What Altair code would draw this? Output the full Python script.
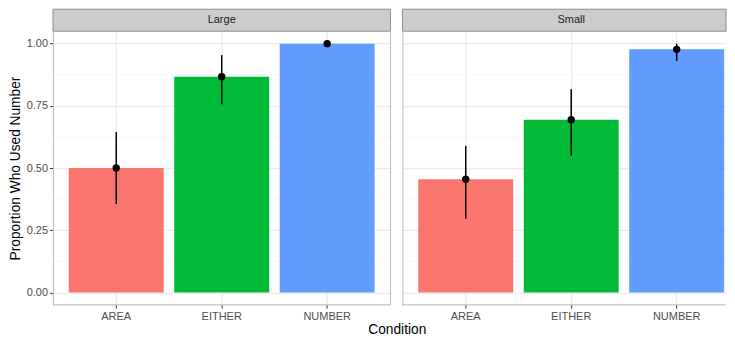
import altair as alt
import pandas as pd

panels = ["Large", "Small"]
conditions = ["AREA", "EITHER", "NUMBER"]
large_prop = [0.500, 0.867, 1.000]
large_lower = [0.355, 0.756, 1.000]
large_upper = [0.645, 0.954, 1.000]
small_prop = [0.455, 0.694, 0.977]
small_lower = [0.296, 0.550, 0.930]
small_upper = [0.589, 0.817, 1.000]
y_ticks = [0.0, 0.25, 0.5, 0.75, 1.0]
y_minor = [0.125, 0.375, 0.625, 0.875]
colors = ["#F8766D", "#00BA38", "#619CFF"]

FONT = "Liberation Sans"
W = 338
W2 = 324
H = 274
STRIP = 22
BORDER = "#B8B8B8"


def panel(name, prop, lower, upper, first, width, x_scale):
    df = pd.DataFrame({"Condition": conditions, "prop": prop,
                       "lower": lower, "upper": upper})
    xs = x_scale
    ys = alt.Scale(domain=[-0.05, 1.05], nice=False, zero=False)
    x_axis = alt.Axis(title=None, labelFontSize=11, labelColor="#4D4D4D",
                      labelAngle=0, tickColor="#333333", tickSize=3.4,
                      labelPadding=2, grid=True, gridColor="#EBEBEB",
                      gridWidth=1.3, domain=False, labelFont=FONT)
    if first:
        y_axis = alt.Axis(title="Proportion Who Used Number", values=y_ticks,
                          format=".2f", labelFontSize=11, labelColor="#4D4D4D",
                          tickColor="#333333", tickSize=3.4, labelPadding=2,
                          titleFontSize=13.75, titleFontWeight="normal",
                          titleColor="black", titleFont=FONT, labelFont=FONT,
                          titlePadding=4, grid=True, gridColor="#EBEBEB",
                          gridWidth=1.3, domainColor=BORDER, domainWidth=1)
    else:
        y_axis = alt.Axis(title=None, values=y_ticks, labels=False, ticks=False,
                          grid=True, gridColor="#EBEBEB", gridWidth=1.3,
                          domainColor=BORDER, domainWidth=1)

    base = alt.Chart(df)
    minor_df = pd.DataFrame({"m": y_minor})
    minor = alt.Chart(minor_df).mark_rule(color="#F4F4F4", strokeWidth=0.7).encode(
        y=alt.Y("m:Q", scale=ys, axis=y_axis)
    )
    bars = base.mark_bar().encode(
        x=alt.X("Condition:N", scale=xs, axis=x_axis, sort=conditions),
        y=alt.Y("prop:Q", scale=ys, axis=y_axis),
        color=alt.Color("Condition:N", scale=alt.Scale(domain=conditions, range=colors),
                        legend=None),
    )
    err = base.mark_rule(color="black", strokeWidth=1.5).encode(
        x=alt.X("Condition:N", scale=xs, sort=conditions),
        y=alt.Y("lower:Q", scale=ys),
        y2="upper:Q",
    )
    pts = base.mark_circle(color="black", size=55, opacity=1).encode(
        x=alt.X("Condition:N", scale=xs, sort=conditions),
        y=alt.Y("prop:Q", scale=ys),
    )
    strip_df = pd.DataFrame({"panel": [name]})
    strip = alt.Chart(strip_df).mark_rect(fill="#CCCCCC", stroke="#8C8C8C",
                                          strokeWidth=1).encode(
        x=alt.value(0), x2=alt.value(width), y=alt.value(-STRIP), y2=alt.value(0)
    )
    strip_text = alt.Chart(strip_df).mark_text(font=FONT, fontSize=11,
                                               color="#1A1A1A").encode(
        x=alt.value(W / 2), y=alt.value(-STRIP / 2), text="panel:N"
    )
    bottom = alt.Chart(strip_df).mark_rule(color=BORDER, strokeWidth=1).encode(
        x=alt.value(0), x2=alt.value(width), y=alt.value(H)
    )
    layers = [minor, bars, err, pts, strip, strip_text, bottom]
    if first:
        right = alt.Chart(strip_df).mark_rule(color=BORDER, strokeWidth=1).encode(
            x=alt.value(width), y=alt.value(0), y2=alt.value(H)
        )
        layers.append(right)
    return alt.layer(*layers).properties(width=width, height=H)


xs_left = alt.Scale(domain=conditions, paddingInner=0.1, paddingOuter=0.15)
xs_right = alt.Scale(domain=conditions, paddingInner=0.1, paddingOuter=0.0837,
                     align=0.896)

left = panel(panels[0], large_prop, large_lower, large_upper, True, W, xs_left)
right = panel(panels[1], small_prop, small_lower, small_upper, False, W2, xs_right)

chart = alt.hconcat(left, right, spacing=10).properties(
    title=alt.TitleParams(text="Condition", orient="bottom", anchor="middle",
                          fontSize=13.75, fontWeight="normal", font=FONT,
                          color="black", offset=2, dx=30),
    padding={"left": 0, "top": 0, "right": 0, "bottom": 0},
).configure_view(stroke=None)

chart.save("out.html", embed_options={"renderer": "svg", "actions": False})
